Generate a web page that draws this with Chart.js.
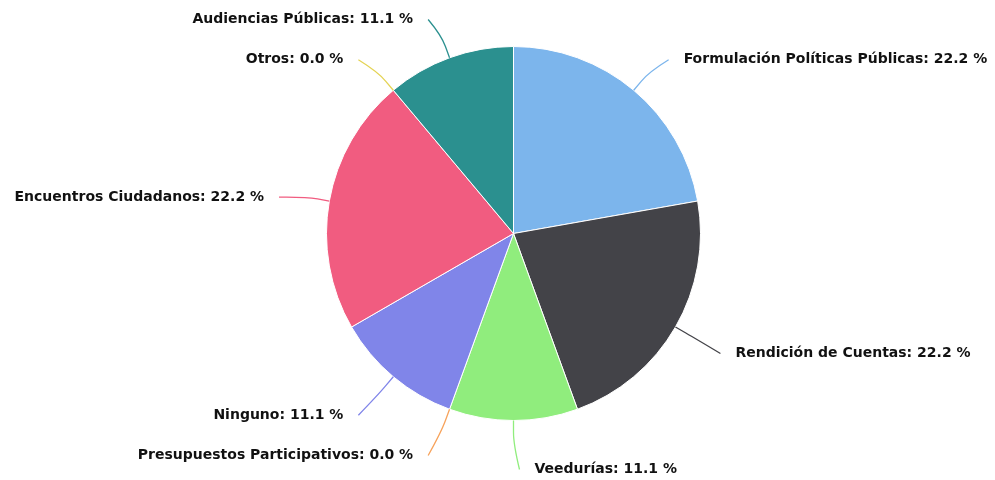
<!DOCTYPE html>
<html>
<head>
    <meta charset="utf-8">
    <title>Mecanismos de participación</title>
    <style>
        body { margin: 0; background: #ffffff; }
        .chart-container { width: 995px; height: 480px; }
    </style>
</head>
<body>
<div class="chart-container">
    <canvas id="myChart" width="995" height="480"></canvas>
</div>
<script src="https://cdn.jsdelivr.net/npm/chart.js"></script>
<script>
    const categorias = [
        'Formulación Políticas Públicas',
        'Rendición de Cuentas',
        'Veedurías',
        'Presupuestos Participativos',
        'Ninguno',
        'Encuentros Ciudadanos',
        'Otros',
        'Audiencias Públicas'
    ];
    const porcentajes = [22.2, 22.2, 11.1, 0.0, 11.1, 22.2, 0.0, 11.1];
    const colores = [
        '#7cb5ec', '#434348', '#90ed7d', '#f7a35c',
        '#8085e9', '#f15c80', '#e4d354', '#2b908f'
    ];

    // etiquetas con conector, estilo highcharts
    const etiquetasPlugin = {
        id: 'etiquetas',
        afterDatasetsDraw(chart) {
            const ctx = chart.ctx;
            const meta = chart.getDatasetMeta(0);
            ctx.save();
            ctx.font = 'bold 14px "DejaVu Sans", Verdana, sans-serif';
            ctx.textBaseline = 'middle';
            meta.data.forEach((arc, i) => {
                const p = arc.getProps(['x', 'y', 'startAngle', 'endAngle', 'outerRadius']);
                const mid = (p.startAngle + p.endAngle) / 2;
                const cos = Math.cos(mid);
                const sin = Math.sin(mid);
                const r = p.outerRadius;
                const R = r + 45;
                const derecha = cos > -1e-6;
                const dir = derecha ? 1 : -1;

                const x0 = p.x + r * cos, y0 = p.y + r * sin;
                const x1 = p.x + (r + 12) * cos, y1 = p.y + (r + 12) * sin;
                const ly = p.y + R * sin + 4;
                const lx = p.x + R * cos + dir * 6;

                ctx.strokeStyle = colores[i];
                ctx.lineWidth = 1.3;
                ctx.beginPath();
                ctx.moveTo(lx, ly);
                ctx.bezierCurveTo(lx, ly, 2 * x1 - x0, 2 * y1 - y0, x1, y1);
                ctx.lineTo(x0, y0);
                ctx.stroke();

                ctx.fillStyle = '#111111';
                ctx.textAlign = derecha ? 'left' : 'right';
                const texto = categorias[i] + ': ' + porcentajes[i].toFixed(1) + ' %';
                ctx.fillText(texto, lx + dir * 15, ly);
            });
            ctx.restore();
        }
    };

    const chartConfig = {
        type: 'pie',
        data: {
            labels: categorias,
            datasets: [{
                data: porcentajes,
                backgroundColor: colores,
                borderColor: '#ffffff',
                borderWidth: 1,
                hoverOffset: 0
            }]
        },
        options: {
            responsive: false,
            animation: false,
            events: [],
            layout: {
                padding: { left: 326, right: 294, top: 46, bottom: 59 }
            },
            plugins: {
                legend: { display: false },
                tooltip: { enabled: false }
            }
        },
        plugins: [etiquetasPlugin]
    };

    const canvas = document.getElementById('myChart');
    const chart = new Chart(canvas, chartConfig);
</script>
</body>
</html>
